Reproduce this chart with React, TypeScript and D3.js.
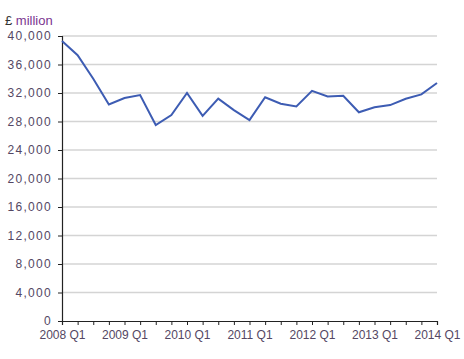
import { useEffect, useRef } from "react";
import * as d3 from "d3";

const quarters = [
  "2008 Q1", "2008 Q2", "2008 Q3", "2008 Q4",
  "2009 Q1", "2009 Q2", "2009 Q3", "2009 Q4",
  "2010 Q1", "2010 Q2", "2010 Q3", "2010 Q4",
  "2011 Q1", "2011 Q2", "2011 Q3", "2011 Q4",
  "2012 Q1", "2012 Q2", "2012 Q3", "2012 Q4",
  "2013 Q1", "2013 Q2", "2013 Q3", "2013 Q4",
  "2014 Q1",
];
const values = [
  39300, 37300, 34000, 30400, 31300, 31700, 27500, 28900, 32000, 28800,
  31200, 29600, 28200, 31400, 30500, 30100, 32300, 31500, 31600, 29300,
  30000, 30300, 31200, 31800, 33400,
];
const yTicks = [0, 4000, 8000, 12000, 16000, 20000, 24000, 28000, 32000, 36000, 40000];
const xLabels = ["2008 Q1", "2009 Q1", "2010 Q1", "2011 Q1", "2012 Q1", "2013 Q1", "2014 Q1"];

export default function App() {
  const svgRef = useRef<SVGSVGElement>(null);

  useEffect(() => {
    const width = 464;
    const height = 359;
    const margin = { top: 36, right: 27, bottom: 38, left: 62 };
    const w = width - margin.left - margin.right;
    const h = height - margin.top - margin.bottom;

    const svg = d3.select(svgRef.current);
    svg.selectAll("*").remove();

    const font = "Arial, 'Liberation Sans', sans-serif";
    const labelColor = "#544763";

    const x = d3.scalePoint<string>().domain(quarters).range([0, w]);
    const y = d3.scaleLinear().domain([0, 40000]).range([h, 0]);

    // unit label
    svg
      .append("text")
      .attr("x", 5)
      .attr("y", 25)
      .attr("font-family", font)
      .attr("font-size", 13)
      .call((t) => {
        t.append("tspan").attr("fill", "#333").text("£ ");
        t.append("tspan").attr("fill", "#7b3590").text("million");
      });

    const chart = svg
      .append("g")
      .attr("transform", `translate(${margin.left},${margin.top})`);

    // gridlines
    chart
      .selectAll(".grid")
      .data(yTicks.filter((d) => d > 0))
      .enter()
      .append("line")
      .attr("x1", 0)
      .attr("x2", w)
      .attr("y1", (d) => y(d))
      .attr("y2", (d) => y(d))
      .attr("stroke", "#d4d4d4")
      .attr("stroke-width", 1.5);

    // y axis
    const yAxis = chart
      .append("g")
      .call(
        d3
          .axisLeft(y)
          .tickValues(yTicks)
          .tickSize(4)
          .tickPadding(6)
          .tickFormat((d) => d3.format(",")(d as number))
      );
    yAxis.select(".domain").attr("stroke", "#222").attr("stroke-width", 1.2);
    yAxis.selectAll(".tick line").attr("stroke", "#222");
    yAxis
      .selectAll(".tick text")
      .attr("font-family", font)
      .attr("font-size", 12)
      .attr("letter-spacing", 1.3)
      .attr("fill", labelColor);

    // x axis
    const xAxis = chart
      .append("g")
      .attr("transform", `translate(0,${h})`)
      .call(
        d3
          .axisBottom(x)
          .tickSize(4)
          .tickPadding(5)
          .tickFormat((d) => (xLabels.includes(d) ? d : ""))
      );
    xAxis.select(".domain").attr("stroke", "#222").attr("stroke-width", 1.2);
    xAxis.selectAll(".tick line").attr("stroke", "#222");
    xAxis
      .selectAll(".tick text")
      .attr("font-family", font)
      .attr("font-size", 12)
      .attr("fill", labelColor);

    // line
    const line = d3
      .line<number>()
      .x((_, i) => x(quarters[i]) as number)
      .y((d) => y(d));

    chart
      .append("path")
      .datum(values)
      .attr("d", line)
      .attr("fill", "none")
      .attr("stroke", "#3d5cb3")
      .attr("stroke-width", 2);
  }, []);

  return (
    <svg
      ref={svgRef}
      width={464}
      height={359}
      style={{ position: "absolute", left: 0, top: 0, background: "#fff" }}
    />
  );
}
